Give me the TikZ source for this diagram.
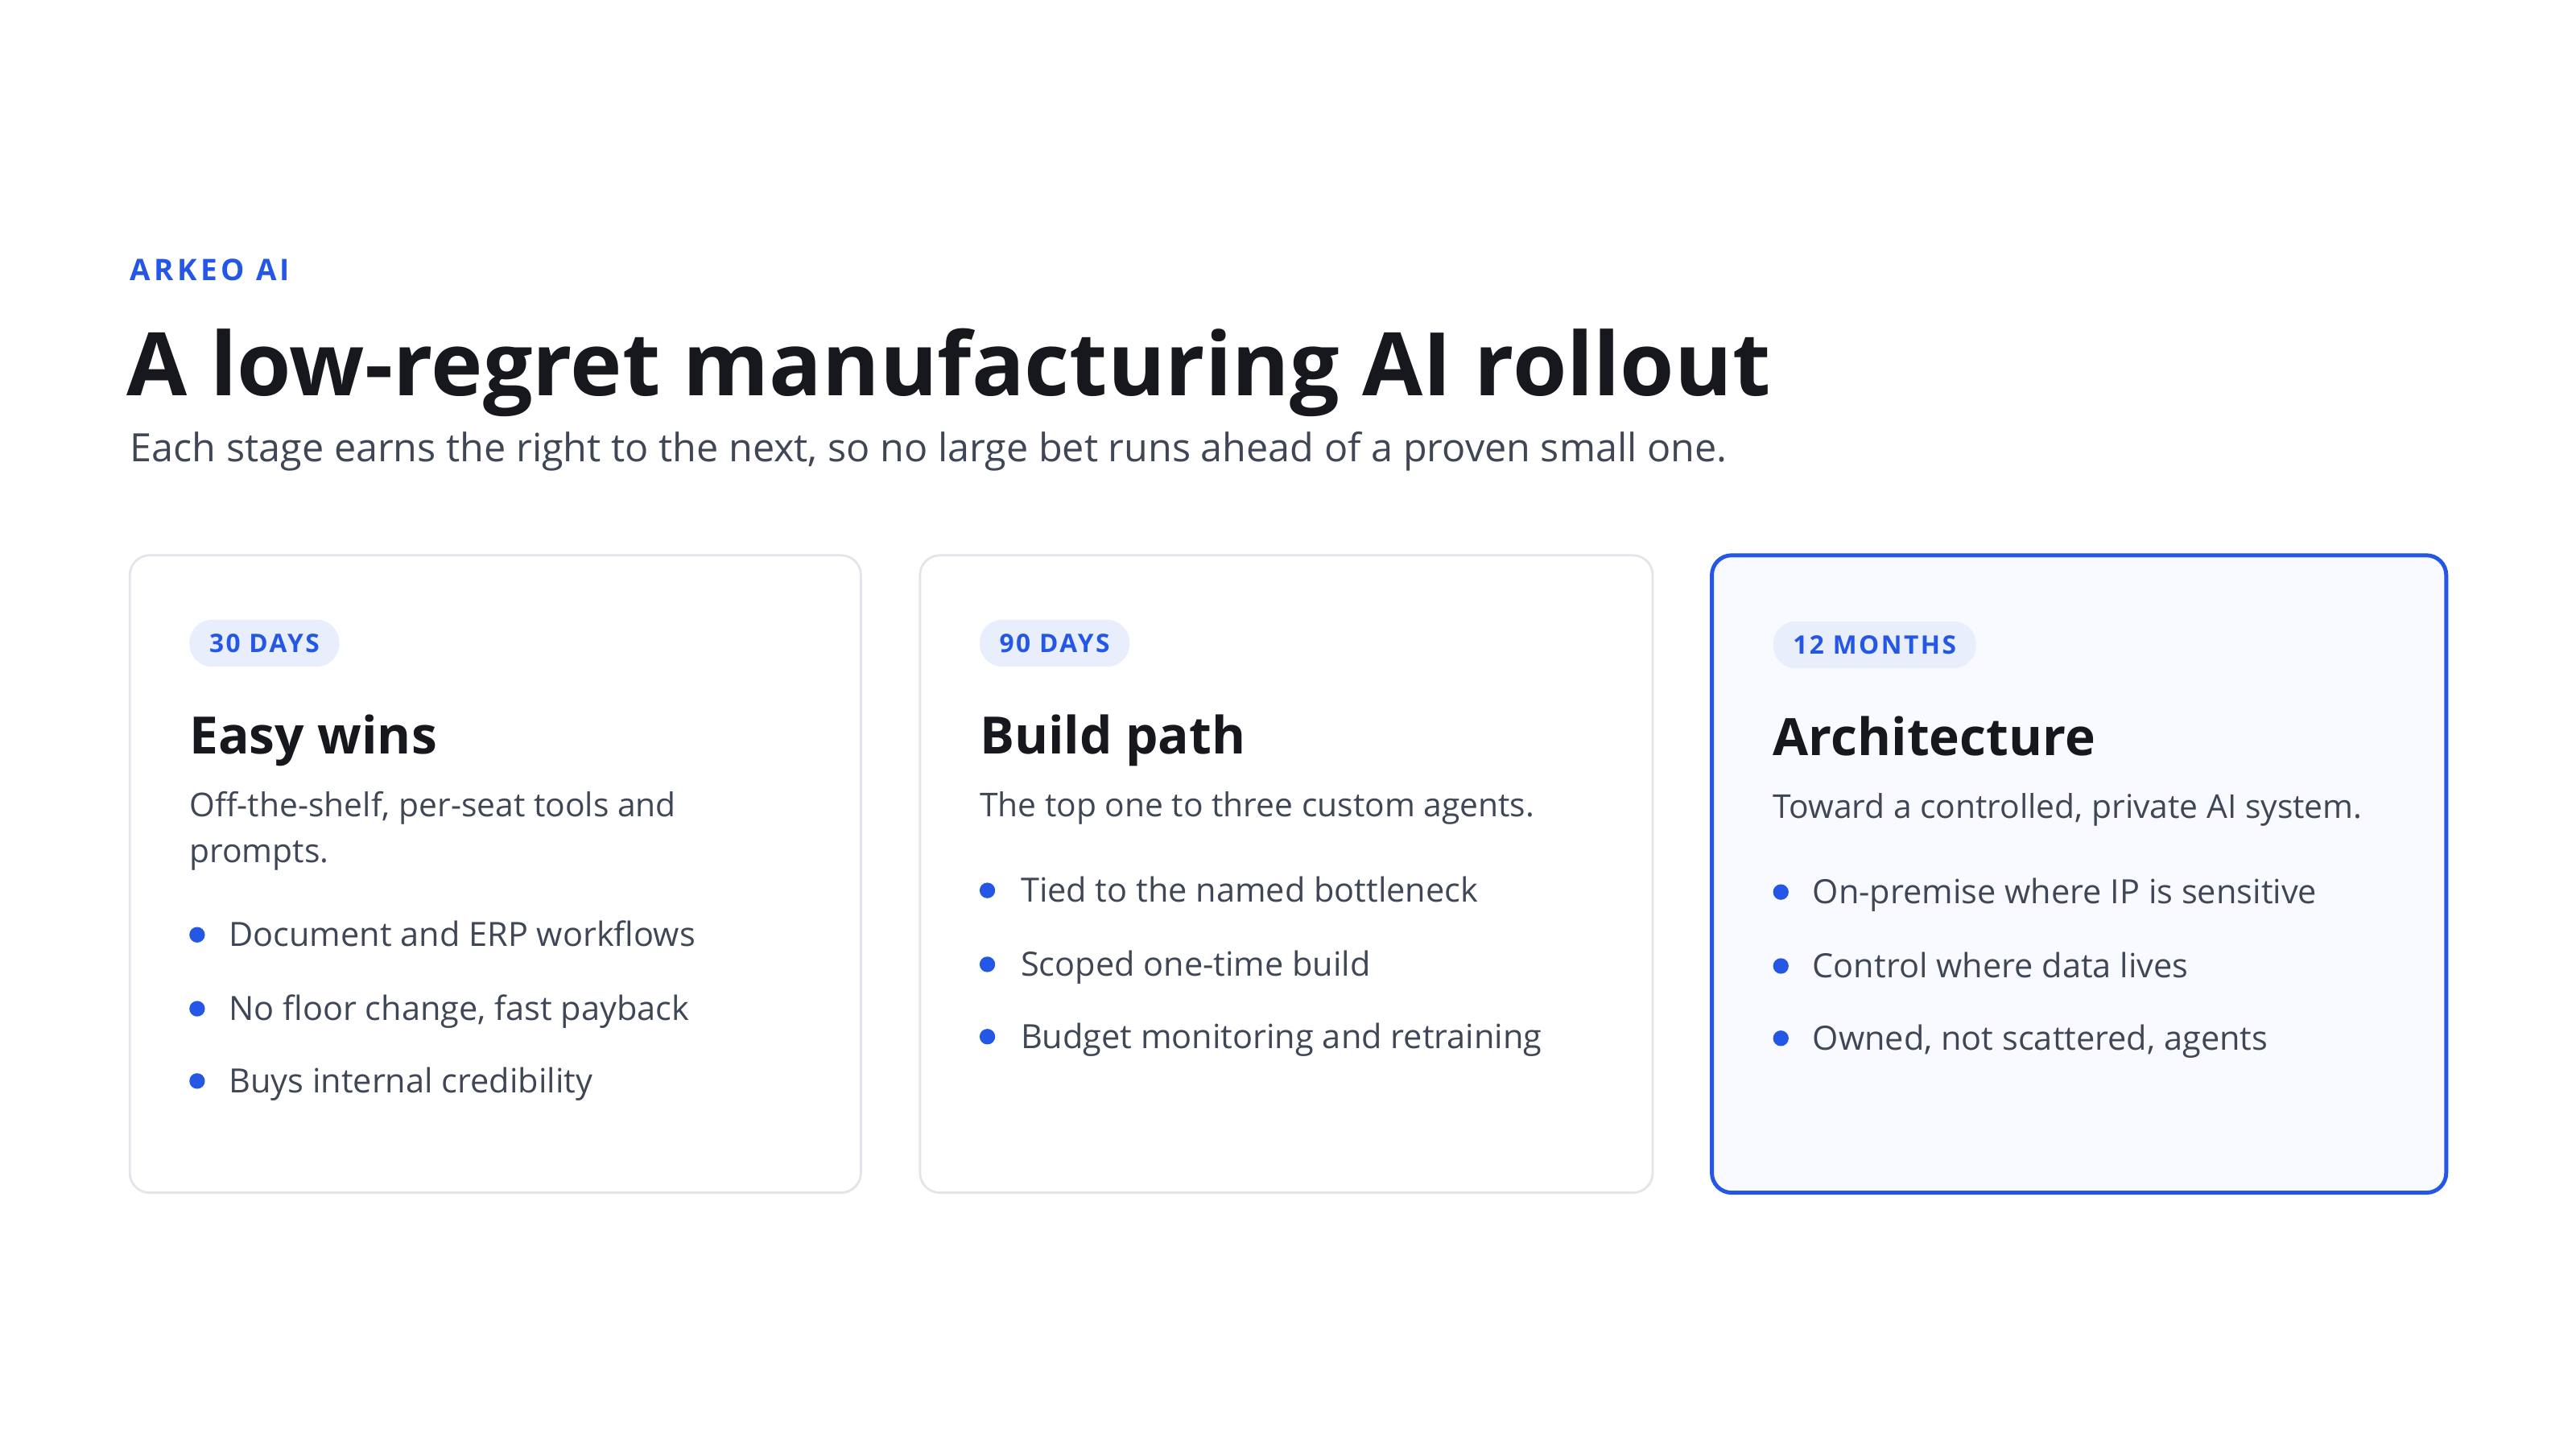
\documentclass[tikz,border=0pt]{standalone}
\usepackage{fontspec}
\setmainfont{Open Sans}
\definecolor{accent}{HTML}{2457E6}
\definecolor{ink}{HTML}{16181D}
\definecolor{body}{HTML}{3F4756}
\definecolor{cardline}{HTML}{E3E5EA}
\definecolor{pill}{HTML}{E9EEFC}
\definecolor{hilite}{HTML}{F8FAFF}
\begin{document}
\begin{tikzpicture}[x=0.020404cm,y=-0.020404cm,
  card/.style={draw=cardline,line width=0.8pt,rounded corners=7pt,fill=white},
  hicard/.style={draw=accent,line width=1.4pt,rounded corners=7pt,fill=hilite},
  badge/.style={fill=pill,rounded corners=8pt,inner xsep=7pt,inner ysep=5pt,text=accent,font=\fontsize{9}{11}\selectfont\bfseries\addfontfeature{LetterSpace=8}},
  ctitle/.style={anchor=base west,inner sep=0pt,text=ink,font=\fontsize{18.2}{22}\selectfont\bfseries},
  cdesc/.style={anchor=base west,inner sep=0pt,text=body,font=\fontsize{11.6}{16}\selectfont},
  bul/.style={anchor=base west,inner sep=0pt,text=body,font=\fontsize{11.8}{15}\selectfont},
  dot/.style={circle,fill=accent,inner sep=0pt,minimum size=5.5pt}]
\useasboundingbox (0,0) rectangle (1568,882);
\node[anchor=base west,inner sep=0pt,text=accent,font=\fontsize{10.5}{12}\selectfont\bfseries\addfontfeature{LetterSpace=12}] (brand) at (79,171) {ARKEO AI};
\node[anchor=base west,inner sep=0pt,text=ink,font=\fontsize{31}{36}\selectfont\bfseries] (title) at (77,241) {A low-regret manufacturing AI rollout};
\node[anchor=base west,inner sep=0pt,text=body,font=\fontsize{13.8}{17}\selectfont] (sub) at (79,281) {Each stage earns the right to the next, so no large bet runs ahead of a proven small one.};
% cards
\path[card] (79,338) rectangle (524,726);
\path[card] (560,338) rectangle (1006,726);
\path[hicard] (1042,338) rectangle (1489,726);
% card 1
\node[badge,anchor=west] (b1) at (115,391.5) {30 DAYS};
\node[ctitle] (t1) at (115,459) {Easy wins};
\node[cdesc] (d1) at (115,497) {Off-the-shelf, per-seat tools and};
\node[cdesc] (d1b) at (115,525) {prompts.};
\foreach \y/\t [count=\i] in {576/Document and ERP workflows,621/No floor change{,} fast payback,665/Buys internal credibility}{
  \node[dot] (p1\i) at (120,\y-7) {};
  \node[bul] (l1\i) at (139,\y) {\t};}
% card 2
\node[badge,anchor=west] (b2) at (596,391.5) {90 DAYS};
\node[ctitle] (t2) at (596,459) {Build path};
\node[cdesc] (d2) at (596,497) {The top one to three custom agents.};
\foreach \y/\t [count=\i] in {549/Tied to the named bottleneck,594/Scoped one-time build,638/Budget monitoring and retraining}{
  \node[dot] (p2\i) at (601,\y-7) {};
  \node[bul] (l2\i) at (621,\y) {\t};}
% card 3
\node[badge,anchor=west] (b3) at (1079,392.5) {12 MONTHS};
\node[ctitle] (t3) at (1079,460) {Architecture};
\node[cdesc] (d3) at (1079,498) {Toward a controlled, private AI system.};
\foreach \y/\t [count=\i] in {550/On-premise where IP is sensitive,595/Control where data lives,639/Owned{,} not scattered{,} agents}{
  \node[dot] (p3\i) at (1084,\y-7) {};
  \node[bul] (l3\i) at (1103,\y) {\t};}
\end{tikzpicture}
\end{document}
